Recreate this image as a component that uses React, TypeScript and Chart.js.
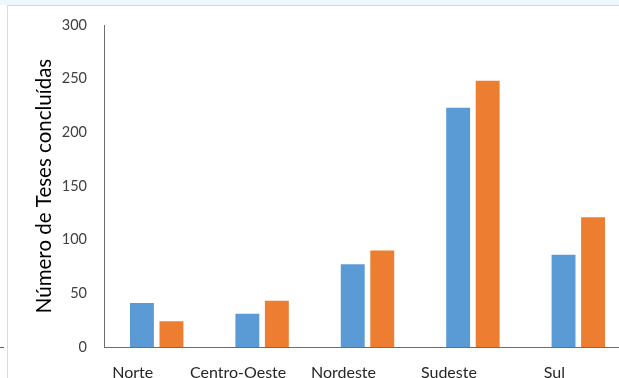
import React, { useEffect, useRef } from "react";
import { Chart, registerables } from "chart.js";

Chart.register(...registerables);

const regions = ["Norte", "Centro-Oeste", "Nordeste", "Sudeste", "Sul"];
const seriesBlue = [41, 31, 77, 223, 86];
const seriesOrange = [24, 43, 90, 248, 121];
const yTicks = [0, 50, 100, 150, 200, 250, 300];

const FONT = "Lato, 'Open Sans', sans-serif";

export default function App() {
  const canvasRef = useRef<HTMLCanvasElement | null>(null);

  useEffect(() => {
    if (!canvasRef.current) return;
    const chart = new Chart(canvasRef.current, {
      type: "bar",
      data: {
        labels: regions,
        datasets: [
          {
            label: "A",
            data: seriesBlue,
            backgroundColor: "#5b9bd5",
            categoryPercentage: 0.56,
            barPercentage: 0.81,
          },
          {
            label: "B",
            data: seriesOrange,
            backgroundColor: "#ed7d31",
            categoryPercentage: 0.56,
            barPercentage: 0.81,
          },
        ],
      },
      options: {
        animation: false,
        responsive: true,
        maintainAspectRatio: false,
        layout: { padding: { top: 18, right: 0, left: 0, bottom: 0 } },
        plugins: { legend: { display: false }, tooltip: { enabled: false } },
        scales: {
          x: {
            grid: { display: false, drawTicks: false },
            border: { display: true, color: "#6d6d6d", width: 1 },
            ticks: {
              color: "#262626",
              font: { family: FONT, size: 16 },
              padding: 16,
              labelOffset: -24,
              maxRotation: 0,
              autoSkip: false,
            },
            afterFit: (scale: any) => {
              scale.height = 31;
            },
          },
          y: {
            min: 0,
            max: 300,
            afterBuildTicks: (scale: any) => {
              scale.ticks = yTicks.map((v) => ({ value: v }));
            },
            grid: { display: false, drawTicks: false },
            border: { display: true, color: "#6d6d6d", width: 1 },
            ticks: {
              color: "#404040",
              font: { family: FONT, size: 14.5 },
              padding: 17,
            },
            title: {
              display: true,
              text: "Número de Teses concluídas",
              color: "#000000",
              font: { family: FONT, size: 20.5 },
              padding: { top: 24, bottom: 0 },
            },
            afterFit: (scale: any) => {
              scale.width = 96;
              scale.paddingTop = 0;
              scale.paddingBottom = 0;
            },
          },
        },
      },
    });
    return () => chart.destroy();
  }, []);

  return (
    <div
      style={{
        position: "fixed",
        left: 0,
        top: 0,
        width: 619,
        height: 378,
        overflow: "hidden",
        background: "#ffffff",
      }}
    >
      <div style={{ position: "absolute", left: 0, top: 0, width: 619, height: 5, background: "#eef7fb" }} />
      <div style={{ position: "absolute", left: 7, top: 5, width: 612, height: 1, background: "#d4d4d4" }} />
      <div style={{ position: "absolute", left: 7, top: 5, width: 1, height: 373, background: "#dcdcdc" }} />
      <div style={{ position: "absolute", left: 0, top: 347, width: 4, height: 1, background: "#5a5a5a" }} />
      <div style={{ position: "absolute", left: 8, top: 7, width: 623, height: 371 }}>
        <canvas ref={canvasRef} />
      </div>
    </div>
  );
}
